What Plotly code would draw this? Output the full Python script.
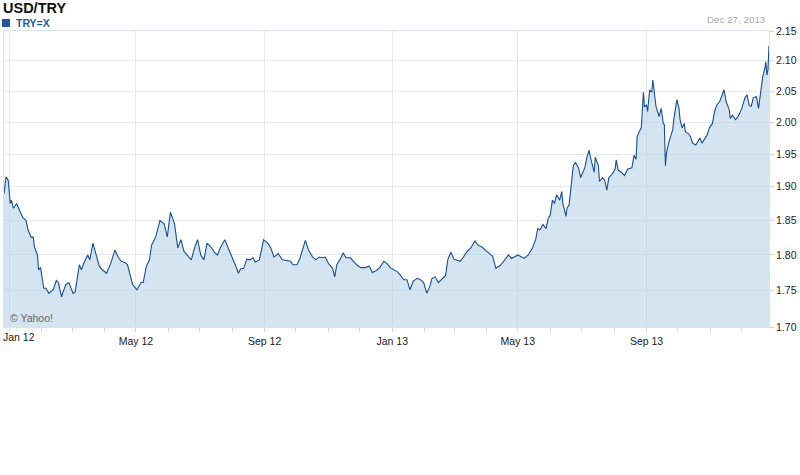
import plotly.graph_objects as go
import pandas as pd

# ---- data ----
dates = [
    "2011-12-27","2011-12-29","2011-12-31","2012-01-01","2012-01-02","2012-01-03","2012-01-05","2012-01-08",
    "2012-01-11","2012-01-14","2012-01-17","2012-01-19","2012-01-22","2012-01-24","2012-01-25","2012-01-28",
    "2012-01-29","2012-01-31","2012-02-01","2012-02-03","2012-02-05","2012-02-08","2012-02-12","2012-02-15",
    "2012-02-17","2012-02-20","2012-02-21","2012-02-24","2012-02-27","2012-03-02","2012-03-04","2012-03-06",
    "2012-03-08","2012-03-10","2012-03-13","2012-03-16","2012-03-18","2012-03-21","2012-03-24","2012-03-27",
    "2012-03-30","2012-04-03","2012-04-07","2012-04-11","2012-04-14","2012-04-17","2012-04-21","2012-04-23",
    "2012-04-26","2012-04-28","2012-05-02","2012-05-06","2012-05-08","2012-05-11","2012-05-14","2012-05-16",
    "2012-05-20","2012-05-24","2012-05-28","2012-05-31","2012-06-03","2012-06-07","2012-06-10","2012-06-13",
    "2012-06-16","2012-06-19","2012-06-23","2012-06-26","2012-06-29","2012-07-02","2012-07-05","2012-07-08",
    "2012-07-12","2012-07-15","2012-07-18","2012-07-21","2012-07-25","2012-07-29","2012-08-01","2012-08-04",
    "2012-08-07","2012-08-09","2012-08-12","2012-08-15","2012-08-18","2012-08-21","2012-08-23","2012-08-27",
    "2012-08-29","2012-08-31","2012-09-04","2012-09-07","2012-09-10","2012-09-14","2012-09-18","2012-09-22",
    "2012-09-26","2012-09-28","2012-10-02","2012-10-05","2012-10-07","2012-10-10","2012-10-13","2012-10-17",
    "2012-10-20","2012-10-23","2012-10-26","2012-10-29","2012-11-01","2012-11-05","2012-11-07","2012-11-09",
    "2012-11-13","2012-11-15","2012-11-18","2012-11-22","2012-11-25","2012-11-28","2012-12-02","2012-12-06",
    "2012-12-10","2012-12-13","2012-12-17","2012-12-20","2012-12-24","2012-12-27","2012-12-30","2013-01-02",
    "2013-01-06","2013-01-09","2013-01-12","2013-01-15","2013-01-18","2013-01-21","2013-01-25","2013-01-28",
    "2013-01-31","2013-02-03","2013-02-06","2013-02-08","2013-02-11","2013-02-14","2013-02-17","2013-02-21",
    "2013-02-23","2013-02-26","2013-03-01","2013-03-04","2013-03-07","2013-03-10","2013-03-13","2013-03-17",
    "2013-03-21","2013-03-24","2013-03-28","2013-03-31","2013-04-03","2013-04-07","2013-04-10","2013-04-14",
    "2013-04-17","2013-04-22","2013-04-25","2013-05-01","2013-05-07","2013-05-11","2013-05-15","2013-05-18",
    "2013-05-20","2013-05-22","2013-05-25","2013-05-28","2013-05-30","2013-06-01","2013-06-03","2013-06-05",
    "2013-06-07","2013-06-10","2013-06-12","2013-06-13","2013-06-16","2013-06-17","2013-06-19","2013-06-21",
    "2013-06-23","2013-06-25","2013-06-28","2013-06-30","2013-07-02","2013-07-04","2013-07-06","2013-07-08",
    "2013-07-10","2013-07-13","2013-07-14","2013-07-17","2013-07-18","2013-07-21","2013-07-23","2013-07-25",
    "2013-07-27","2013-07-30","2013-08-02","2013-08-03","2013-08-05","2013-08-08","2013-08-11","2013-08-14",
    "2013-08-18","2013-08-20","2013-08-22","2013-08-23","2013-08-25","2013-08-27","2013-08-29","2013-08-30",
    "2013-09-01","2013-09-02","2013-09-04","2013-09-06","2013-09-07","2013-09-09","2013-09-10","2013-09-13",
    "2013-09-15","2013-09-17","2013-09-18","2013-09-19","2013-09-20","2013-09-22","2013-09-24","2013-09-26",
    "2013-09-27","2013-09-29","2013-09-30","2013-10-02","2013-10-03","2013-10-05","2013-10-07","2013-10-08",
    "2013-10-11","2013-10-13","2013-10-15","2013-10-18","2013-10-20","2013-10-22","2013-10-24","2013-10-27",
    "2013-10-29","2013-10-31","2013-11-03","2013-11-05","2013-11-07","2013-11-10","2013-11-12","2013-11-14",
    "2013-11-16","2013-11-19","2013-11-20","2013-11-22","2013-11-25","2013-11-27","2013-11-29","2013-12-01",
    "2013-12-04","2013-12-06","2013-12-08","2013-12-10","2013-12-12","2013-12-15","2013-12-17","2013-12-19",
    "2013-12-21","2013-12-23","2013-12-24","2013-12-25","2013-12-26","2013-12-27",
]
rates = [
    1.890,1.915,1.910,1.895,1.875,1.880,1.868,1.875,
    1.863,1.854,1.850,1.836,1.825,1.826,1.812,1.800,
    1.779,1.782,1.772,1.753,1.753,1.746,1.751,1.764,
    1.761,1.741,1.746,1.758,1.761,1.746,1.748,1.765,
    1.786,1.779,1.791,1.800,1.793,1.817,1.800,1.784,
    1.779,1.774,1.788,1.807,1.797,1.791,1.789,1.786,
    1.769,1.758,1.751,1.761,1.761,1.784,1.793,1.814,
    1.826,1.850,1.845,1.826,1.862,1.845,1.810,1.822,
    1.805,1.800,1.793,1.810,1.822,1.800,1.793,1.817,
    1.811,1.804,1.800,1.811,1.822,1.807,1.797,1.786,
    1.774,1.780,1.781,1.794,1.793,1.796,1.790,1.793,
    1.807,1.822,1.817,1.810,1.797,1.802,1.793,1.792,
    1.791,1.786,1.786,1.796,1.807,1.821,1.807,1.797,
    1.793,1.797,1.796,1.797,1.788,1.781,1.769,1.786,
    1.796,1.803,1.796,1.796,1.791,1.786,1.782,1.782,
    1.784,1.775,1.778,1.782,1.791,1.788,1.782,1.779,
    1.776,1.771,1.765,1.765,1.751,1.763,1.767,1.765,
    1.761,1.746,1.756,1.767,1.769,1.761,1.765,1.771,
    1.793,1.804,1.794,1.793,1.791,1.797,1.804,1.810,
    1.820,1.814,1.811,1.807,1.803,1.798,1.781,1.785,
    1.790,1.800,1.795,1.800,1.795,1.800,1.810,1.822,
    1.838,1.836,1.844,1.838,1.853,1.858,1.880,1.875,
    1.888,1.880,1.893,1.875,1.856,1.868,1.873,1.908,
    1.932,1.937,1.929,1.914,1.922,1.929,1.945,1.956,
    1.941,1.922,1.945,1.932,1.908,1.914,1.910,1.895,
    1.914,1.919,1.927,1.941,1.925,1.922,1.917,1.927,
    1.929,1.948,1.942,1.977,1.985,1.991,2.048,2.025,
    2.027,2.017,2.052,2.048,2.068,2.039,2.025,2.009,
    2.022,1.998,1.996,1.932,1.951,1.967,1.977,1.988,
    2.004,2.022,2.036,2.022,2.004,1.991,1.998,1.985,
    1.982,1.977,1.967,1.964,1.970,1.975,1.967,1.975,
    1.980,1.991,1.998,2.017,2.027,2.033,2.041,2.052,
    2.033,2.020,2.006,2.011,2.004,2.008,2.014,2.022,
    2.039,2.044,2.027,2.025,2.039,2.041,2.022,2.048,
    2.073,2.087,2.098,2.076,2.085,2.125,
]

x_tick_vals = ["2012-01-01", "2012-05-01", "2012-09-01", "2013-01-01", "2013-05-01", "2013-09-01"]
x_tick_text = ["", "May 12", "Sep 12", "Jan 13", "May 13", "Sep 13"]
first_tick_label = "Jan 12"
y_tick_vals = [1.70, 1.75, 1.80, 1.85, 1.90, 1.95, 2.00, 2.05, 2.10, 2.15]
y_tick_text = ["%.2f" % v for v in y_tick_vals]
month_starts = [d.strftime("%Y-%m-%d") for d in pd.date_range("2012-01-01", "2013-12-01", freq="MS")]

FONT = "Liberation Sans, Arial, sans-serif"
LINE = "#1b4f88"
GRID = "#e4e9f0"

fig = go.Figure()
fig.add_trace(go.Scatter(
    x=dates, y=rates, mode="lines",
    line=dict(color=LINE, width=1.1),
    fill="tozeroy", fillcolor="rgba(185,212,233,0.62)",
    hoverinfo="x+y", showlegend=False,
))

fig.update_layout(
    width=800, height=475,
    margin=dict(l=3, r=30, t=31, b=148),
    paper_bgcolor="white", plot_bgcolor="white",
    font=dict(family=FONT, size=10.5, color="#333"),
    xaxis=dict(
        type="date", range=["2011-12-27", "2013-12-27"],
        tickmode="array", tickvals=x_tick_vals, ticktext=x_tick_text,
        showgrid=True, gridcolor=GRID, gridwidth=1,
        ticks="outside", ticklen=4, tickcolor="#d0d6de",
        minor=dict(tickvals=month_starts, ticks="outside", ticklen=4, tickcolor="#d0d6de", showgrid=False),
        showline=True, mirror=True, linecolor="#dde2e8", linewidth=1,
        tickfont=dict(family=FONT, size=10.5, color="#222"),
        zeroline=False, fixedrange=True,
    ),
    yaxis=dict(
        type="log", side="right",
        range=[0.2304489, 0.3324385],
        tickmode="array", tickvals=y_tick_vals, ticktext=y_tick_text,
        showgrid=True, gridcolor=GRID, gridwidth=1,
        ticks="outside", ticklen=4, tickcolor="#d0d6de",
        showline=True, mirror=True, linecolor="#dde2e8", linewidth=1,
        tickfont=dict(family=FONT, size=10.5, color="#222"),
        zeroline=False, fixedrange=True,
    ),
    shapes=[dict(type="rect", xref="paper", yref="paper", x0=-0.0026, x1=0.0078,
                 y0=1.0405, y1=1.0135, fillcolor="#1f5a96", line=dict(width=0))],
    annotations=[
        dict(text="<b>USD/TRY</b>", xref="paper", yref="paper", x=-0.0039, y=1.078,
             xanchor="left", yanchor="middle", showarrow=False,
             font=dict(family=FONT, size=14.5, color="#111")),
        dict(text="<b>TRY=X</b>", xref="paper", yref="paper", x=0.013, y=1.027,
             xanchor="left", yanchor="middle", showarrow=False,
             font=dict(family=FONT, size=10.5, color="#1f5a96")),
        dict(text="Dec 27, 2013", xref="paper", yref="paper", x=0.9987, y=1.04,
             xanchor="right", yanchor="middle", showarrow=False,
             font=dict(family=FONT, size=9.8, color="#aaaaaa")),
        dict(text="© Yahoo!", xref="paper", yref="paper", x=0.005, y=0.03,
             xanchor="left", yanchor="middle", showarrow=False,
             font=dict(family=FONT, size=10.5, color="#666")),
        dict(text=first_tick_label, x=x_tick_vals[0], xref="x", yref="paper", y=-0.035,
             xanchor="left", yanchor="middle", xshift=-8, showarrow=False,
             font=dict(family=FONT, size=10.5, color="#222")),
    ],
)

fig.write_html("out.html", config={"displayModeBar": False},
               post_script="document.body.style.margin='0';document.body.style.padding='0';")
